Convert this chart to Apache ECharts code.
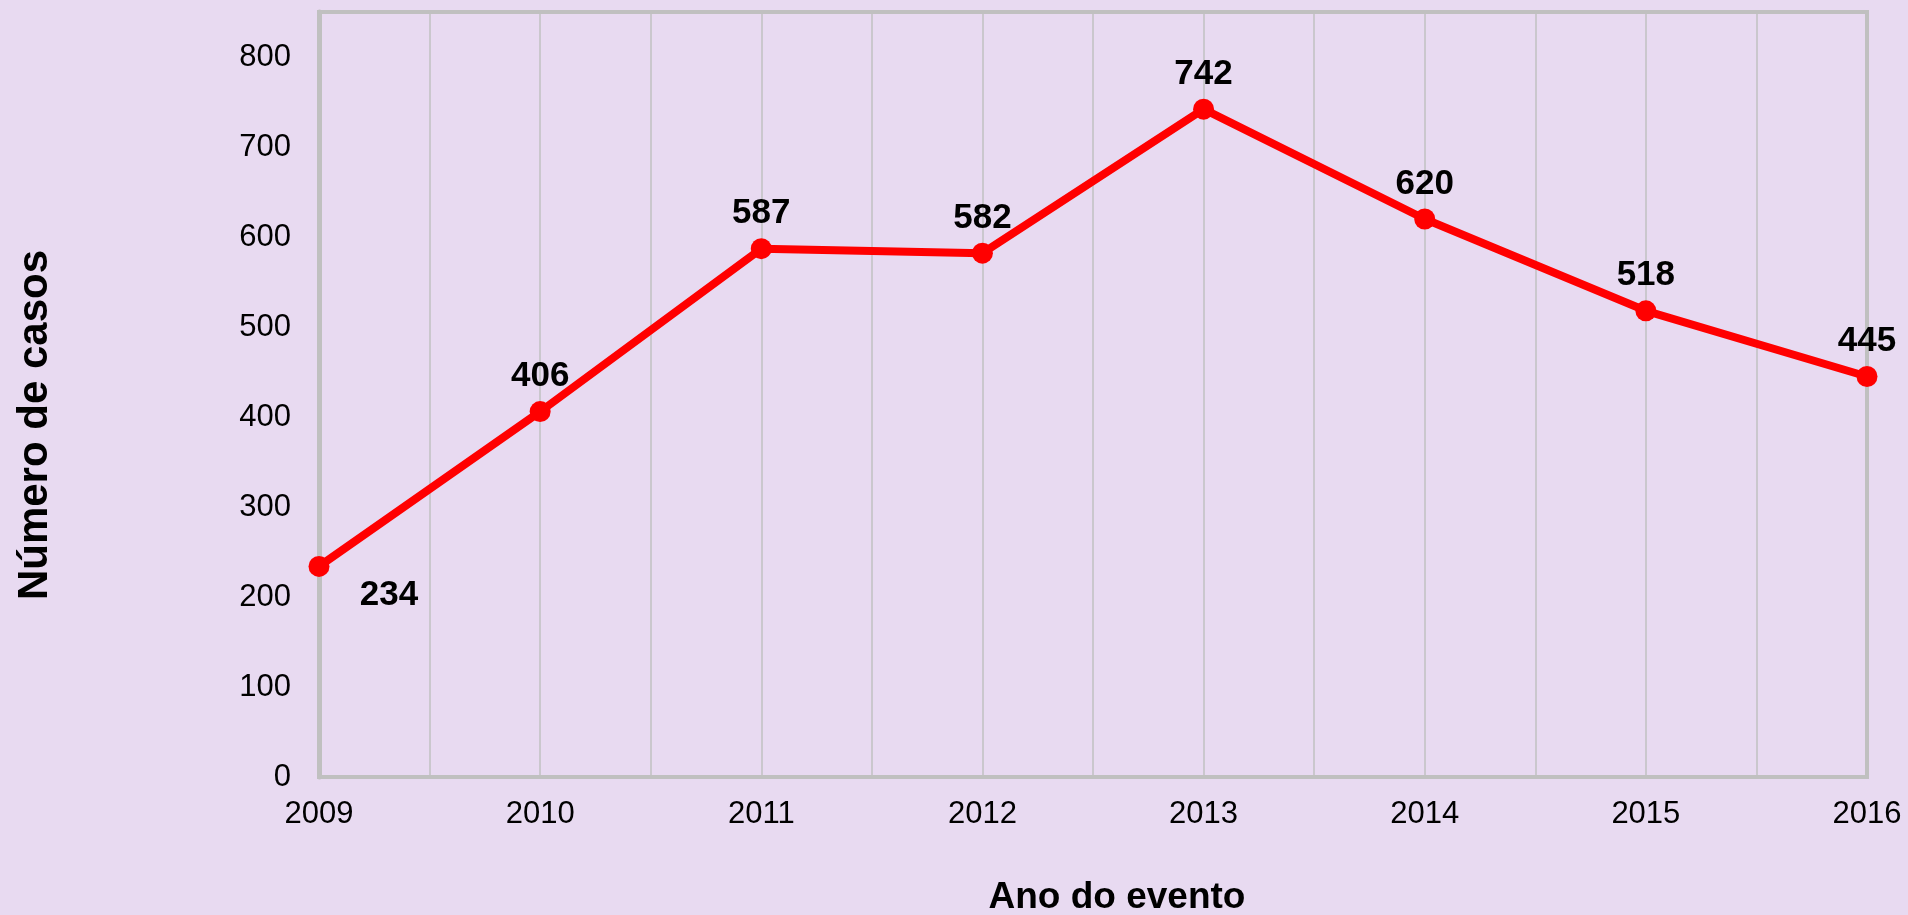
<!DOCTYPE html>
<html>
<head>
<meta charset="utf-8">
<title>Número de casos por ano</title>
<script src="https://cdn.jsdelivr.net/npm/echarts@6/dist/echarts.min.js"></script>
<style>
    html, body { margin: 0; padding: 0; background: #E8DAF1; }
    #main { width: 1908px; height: 915px; }
</style>
</head>
<body>
<div id="main"></div>
<script>
// dados
var years = [2009, 2010, 2011, 2012, 2013, 2014, 2015, 2016];
var casos = [234, 406, 587, 582, 742, 620, 518, 445];
var yTicks = [0, 100, 200, 300, 400, 500, 600, 700, 800];

var chart = echarts.init(document.getElementById('main'));
var font = '"Liberation Sans", Arial, sans-serif';
var gridColor = '#c0c0c0';

var seriesData = years.map(function (y, i) {
    var item = { value: [y, casos[i]] };
    if (i === 0) {
        // rótulo de 2009 fica abaixo e à direita
        item.label = { position: 'bottom', distance: 1, offset: [70, 0] };
    }
    return item;
});

var option = {
    backgroundColor: '#E8DAF1',
    animation: false,
    grid: {
        left: 319,
        right: 41,
        top: 12,
        bottom: 138,
        show: true,
        borderColor: gridColor,
        borderWidth: 4,
        backgroundColor: 'transparent'
    },
    xAxis: {
        type: 'value',
        min: years[0],
        max: years[years.length - 1],
        interval: 0.5,
        axisLine: { show: true, lineStyle: { color: gridColor, width: 3 } },
        axisTick: { show: false },
        splitLine: { show: true, lineStyle: { color: gridColor, width: 1.5 } },
        axisLabel: {
            color: '#000',
            fontFamily: font,
            fontSize: 31,
            margin: 22,
            formatter: function (v) {
                return years.indexOf(v) >= 0 ? String(v) : '';
            }
        }
    },
    yAxis: {
        type: 'value',
        min: yTicks[0],
        max: 850,
        interval: 100,
        axisLine: { show: true, lineStyle: { color: gridColor, width: 5 } },
        axisTick: { show: false },
        splitLine: { show: false },
        axisLabel: {
            color: '#000',
            fontFamily: font,
            fontSize: 31,
            margin: 28,
            formatter: function (v) {
                return yTicks.indexOf(v) >= 0 ? String(v) : '';
            }
        }
    },
    graphic: [
        {
            type: 'text',
            x: 35,
            y: 425,
            rotation: Math.PI / 2,
            style: {
                text: 'Número de casos',
                font: 'bold 42px ' + font,
                fill: '#000',
                align: 'center',
                verticalAlign: 'middle'
            }
        },
        {
            type: 'text',
            x: 1117,
            y: 898,
            style: {
                text: 'Ano do evento',
                font: 'bold 37px ' + font,
                fill: '#000',
                align: 'center',
                verticalAlign: 'middle'
            }
        }
    ],
    series: [
        {
            type: 'line',
            data: seriesData,
            symbol: 'circle',
            symbolSize: 21,
            lineStyle: { color: '#ff0000', width: 8 },
            itemStyle: { color: '#ff0000' },
            label: {
                show: true,
                position: 'top',
                distance: 7,
                color: '#000',
                fontFamily: font,
                fontWeight: 'bold',
                fontSize: 35
            }
        }
    ]
};

chart.setOption(option);
</script>
</body>
</html>
